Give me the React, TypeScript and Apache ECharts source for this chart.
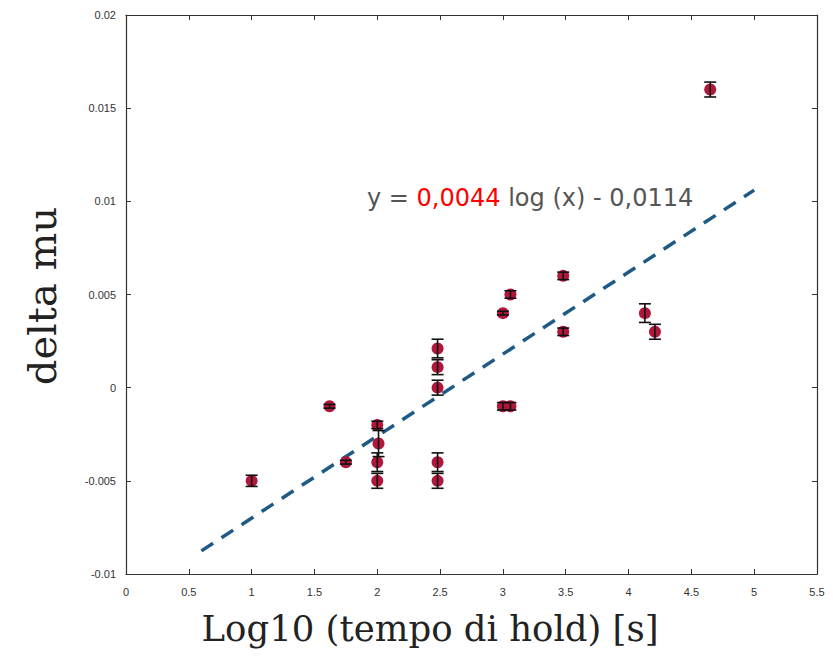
import React, { useEffect, useRef } from "react";
import * as echarts from "echarts";

// x = log10(hold time), y = delta mu, err = half-width of error bar
const pointX = [1.0, 1.62, 1.75, 2.0, 2.01, 2.0, 2.0, 2.48, 2.48, 2.48, 2.48, 2.48, 3.0, 3.06, 3.0, 3.06, 3.48, 3.48, 4.13, 4.21, 4.65];
const pointY = [-0.005, -0.001, -0.004, -0.002, -0.003, -0.004, -0.005, 0.0021, 0.0011, 0.0, -0.004, -0.005, -0.001, -0.001, 0.004, 0.005, 0.006, 0.003, 0.004, 0.003, 0.016];
const pointErr = [0.0003, 0.0001, 0.0001, 0.0002, 0.0007, 0.0005, 0.0004, 0.0005, 0.0004, 0.0004, 0.0005, 0.0004, 0.0002, 0.0002, 0.0001, 0.0002, 0.0002, 0.0002, 0.0005, 0.0004, 0.0004];

const fitX = [0.6, 5.0];
const fitY = [-0.00876, 0.0106];

const xTickLabels = ["0", "0.5", "1", "1.5", "2", "2.5", "3", "3.5", "4", "4.5", "5", "5.5"];
const yTickLabels = ["-0.01", "-0.005", "0", "0.005", "0.01", "0.015", "0.02"];

const xTitle = "Log10 (tempo di hold) [s]";
const yTitle = "delta mu";
const eqPrefix = "y = ";
const eqSlope = "0,0044";
const eqSuffix = " log (x) - 0,0114";

export default function App() {
  const ref = useRef<HTMLDivElement>(null);
  useEffect(() => {
    document.body.style.margin = "0";
    const chart = echarts.init(ref.current!, null, { renderer: "svg" });
    const scatterData = pointX.map((x, i) => [x, pointY[i]]);
    const errData = pointX.map((x, i) => [x, pointY[i] - pointErr[i], pointY[i] + pointErr[i]]);
    const lineData = fitX.map((x, i) => [x, fitY[i]]);
    const axisColor = "#333";
    const tickLabelStyle = { color: "#333", fontSize: 11, fontFamily: "Liberation Sans, Arial, sans-serif" };
    const frameLine = { show: true, onZero: false, lineStyle: { color: axisColor, width: 1.2 } };
    const frameTick = { show: true, inside: true, length: 5, lineStyle: { color: axisColor } };
    chart.setOption({
      animation: false,
      backgroundColor: "#fff",
      grid: { left: 126, top: 15, right: 16, bottom: 83 },
      xAxis: [
        {
          type: "value",
          min: 0,
          max: 5.5,
          interval: 0.5,
          axisLine: frameLine,
          axisTick: frameTick,
          splitLine: { show: false },
          axisLabel: {
            ...tickLabelStyle,
            margin: 12,
            formatter: (v: number) => xTickLabels[Math.round(v / 0.5)] ?? "",
          },
        },
        {
          type: "value",
          position: "top",
          min: 0,
          max: 5.5,
          interval: 0.5,
          axisLine: frameLine,
          axisTick: frameTick,
          axisLabel: { show: false },
          splitLine: { show: false },
        },
      ],
      yAxis: [
        {
          type: "value",
          min: -0.01,
          max: 0.02,
          interval: 0.005,
          axisLine: frameLine,
          axisTick: frameTick,
          splitLine: { show: false },
          axisLabel: {
            ...tickLabelStyle,
            margin: 10,
            formatter: (v: number) => yTickLabels[Math.round((v + 0.01) / 0.005)] ?? "",
          },
        },
        {
          type: "value",
          position: "right",
          min: -0.01,
          max: 0.02,
          interval: 0.005,
          axisLine: frameLine,
          axisTick: frameTick,
          axisLabel: { show: false },
          splitLine: { show: false },
        },
      ],
      series: [
        {
          type: "line",
          data: lineData,
          showSymbol: false,
          symbol: "none",
          lineStyle: { color: "#1f5a85", width: 3.5, type: [14, 10] },
          z: 1,
        },
        {
          type: "custom",
          data: errData,
          z: 3,
          renderItem: (params: any, api: any) => {
            const x = api.value(0);
            const lo = api.coord([x, api.value(1)]);
            const hi = api.coord([x, api.value(2)]);
            const cap = 6;
            const style = { stroke: "#111", lineWidth: 1.6 };
            return {
              type: "group",
              children: [
                { type: "line", shape: { x1: lo[0], y1: lo[1], x2: hi[0], y2: hi[1] }, style },
                { type: "line", shape: { x1: lo[0] - cap, y1: lo[1], x2: lo[0] + cap, y2: lo[1] }, style },
                { type: "line", shape: { x1: hi[0] - cap, y1: hi[1], x2: hi[0] + cap, y2: hi[1] }, style },
              ],
            };
          },
        },
        {
          type: "scatter",
          data: scatterData,
          symbol: "circle",
          symbolSize: 12,
          itemStyle: { color: "#b0173a", opacity: 1 },
          z: 2,
        },
      ],
      graphic: [
        {
          type: "text",
          x: 367,
          y: 198,
          style: {
            text: `{g|${eqPrefix}}{r|${eqSlope}}{g|${eqSuffix}}`,
            verticalAlign: "middle",
            rich: {
              g: { fill: "#555", fontSize: 24, fontFamily: "DejaVu Sans, sans-serif" },
              r: { fill: "#ff0000", fontSize: 24, fontFamily: "DejaVu Sans, sans-serif" },
            },
          },
        },
        {
          type: "text",
          x: 430,
          y: 628,
          style: {
            text: xTitle,
            align: "center",
            verticalAlign: "middle",
            fill: "#222",
            fontSize: 35.5,
            fontFamily: "DejaVu Serif, Georgia, serif",
          },
        },
        {
          type: "text",
          x: 42,
          y: 296,
          rotation: Math.PI / 2,
          style: {
            text: yTitle,
            align: "center",
            verticalAlign: "middle",
            fill: "#222",
            fontSize: 40,
            fontFamily: "DejaVu Serif, Georgia, serif",
          },
        },
      ],
    });
    return () => chart.dispose();
  }, []);
  return <div ref={ref} style={{ width: 833, height: 657 }} />;
}
